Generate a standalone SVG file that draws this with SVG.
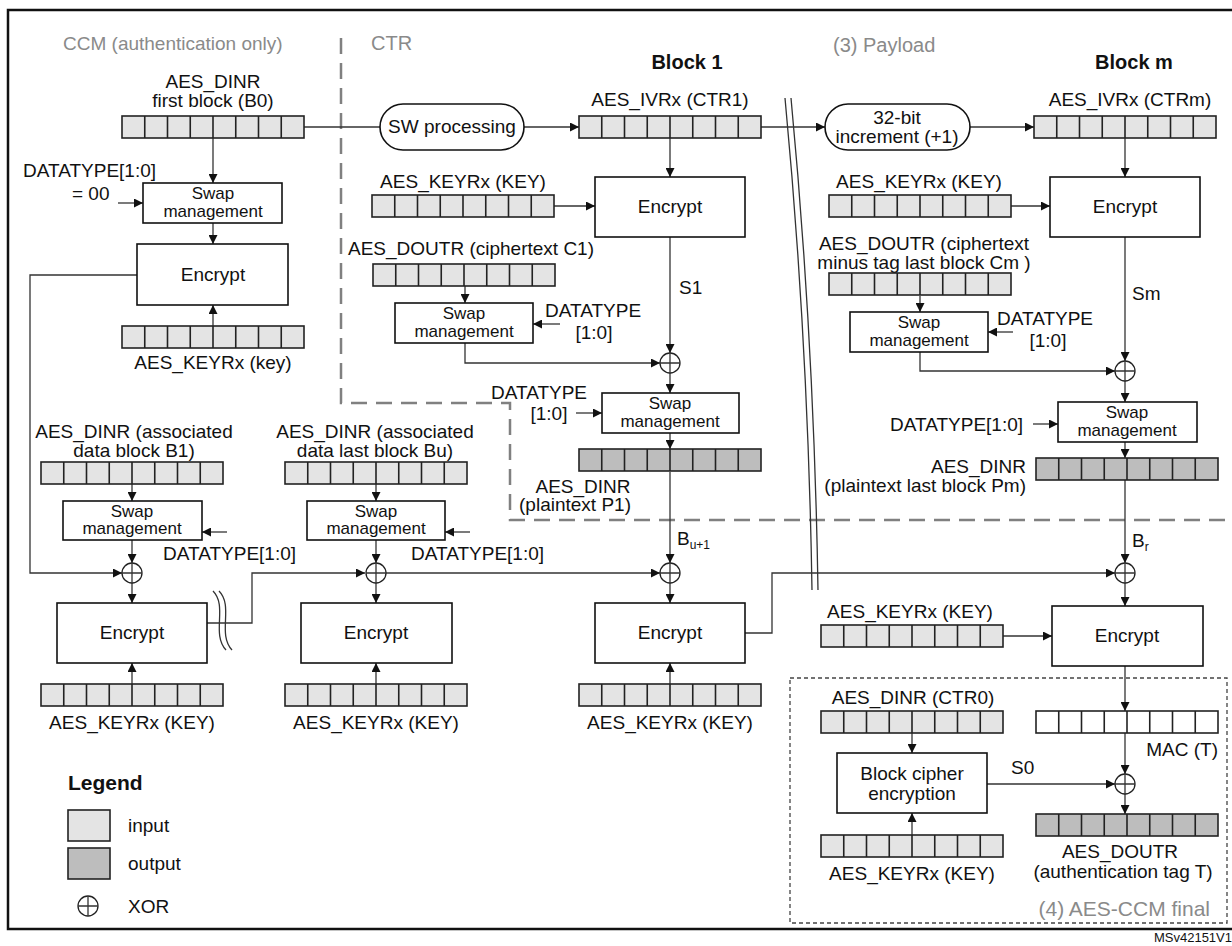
<svg xmlns="http://www.w3.org/2000/svg" xmlns:xlink="http://www.w3.org/1999/xlink" width="1232" height="946" viewBox="0 0 1232 946">
<style>
text{font-family:"Liberation Sans",Arial,sans-serif;font-size:19px;fill:#111}
.c{text-anchor:middle}
.r{text-anchor:end}
.s{font-size:17px}
.g{fill:#8a8a8a;font-size:20px}
.b{font-weight:bold;font-size:20px}
.box{fill:#fff;stroke:#111;stroke-width:1.6}
.ln{fill:none;stroke:#333;stroke-width:1.3}
.ar{fill:none;stroke:#333;stroke-width:1.3;marker-end:url(#ah)}
.cell{stroke:#222;stroke-width:1.6}
.in{fill:#e4e4e4}
.out{fill:#bdbdbd}
.wh{fill:#fff}
.x{fill:#fff;stroke:#222;stroke-width:1.3}
</style>
<defs>
<marker id="ah" viewBox="0 0 10 10" refX="10" refY="5" markerWidth="9" markerHeight="9" markerUnits="userSpaceOnUse" orient="auto"><path d="M0,0L10,5L0,10z" fill="#111"/></marker>
<g id="cells"><path class="cell" fill="none" d="M22.75,0V22M45.5,0V22M68.25,0V22M91,0V22M113.75,0V22M136.5,0V22M159.25,0V22"/></g>
<g id="regIn"><rect class="cell in" width="182" height="22"/><use xlink:href="#cells"/></g>
<g id="regOut"><rect class="cell out" width="182" height="22"/><use xlink:href="#cells"/></g>
<g id="regWh"><rect class="cell wh" width="182" height="22"/><use xlink:href="#cells"/></g>
<g id="xor"><circle class="x" r="10"/><path class="ln" d="M-10,0H10M0,-10V10"/></g>
</defs>
<rect x="8" y="10" width="1240" height="919" fill="none" stroke="#111" stroke-width="2.5"/>
<path d="M341,38V403H510V520H1232" fill="none" stroke="#808080" stroke-width="2.5" stroke-dasharray="16 9"/>
<rect x="790" y="678" width="437" height="245" fill="none" stroke="#444" stroke-width="1.3" stroke-dasharray="4 3"/>
<text x="63" y="50" class="g" style="font-size:19px">CCM (authentication only)</text>
<text x="371" y="50" class="g">CTR</text>
<text x="833" y="52" class="g">(3) Payload</text>
<text x="1210" y="916" class="g r" style="font-size:21px">(4) AES-CCM final</text>
<text x="687" y="69" class="b c">Block 1</text>
<text x="1134" y="69" class="b c">Block m</text>
<text x="1232" y="942" class="r" style="font-size:13px">MSv42151V1</text>
<g id="connectors">
<path class="ar" d="M213,138V183"/><path class="ar" d="M213,223V244"/><path class="ar" d="M118,203H143"/><path class="ar" d="M213,326V305"/>
<path class="ar" d="M137,275H30V573H122"/>
<path class="ln" d="M304,127H380"/><path class="ar" d="M524,127H579"/>
<path class="ar" d="M670,138V177"/><path class="ar" d="M554,206H595"/>
<path class="ar" d="M465,286V303"/><path class="ar" d="M560,324H533"/><path class="ar" d="M465,343V363H660"/>
<path class="ar" d="M670,237V353"/><path class="ar" d="M670,373V393"/><path class="ar" d="M576,413H602"/>
<path class="ar" d="M670,433V449"/><path class="ar" d="M670,472V563"/><path class="ar" d="M670,583V603"/><path class="ar" d="M670,684V663"/>
<path class="ar" d="M745,633H772V573H1115"/>
<path class="ar" d="M760,127H825"/><path class="ar" d="M970,127H1034"/>
<path class="ar" d="M1125,138V177"/><path class="ar" d="M1010,206H1050"/>
<path class="ar" d="M920,296V312"/><path class="ar" d="M1013,332H988"/><path class="ar" d="M920,352V371H1115"/>
<path class="ar" d="M1125,237V361"/><path class="ar" d="M1125,381V402"/><path class="ar" d="M1033,424H1058"/>
<path class="ar" d="M1125,442V458"/><path class="ar" d="M1125,480V563"/><path class="ar" d="M1125,583V606"/>
<path class="ar" d="M1003,636H1052"/><path class="ar" d="M1125,666V711"/><path class="ar" d="M1125,733V774"/>
<path class="ar" d="M912,733V753"/><path class="ar" d="M912,835V813"/><path class="ar" d="M987,784H1115"/><path class="ar" d="M1125,794V814"/>
<path class="ar" d="M132,484V501"/><path class="ar" d="M227,532H202"/><path class="ar" d="M132,540V563"/><path class="ar" d="M132,583V603"/><path class="ar" d="M132,684V663"/>
<path class="ar" d="M207,623H252V573H365"/>
<path class="ar" d="M376,484V501"/><path class="ar" d="M470,532H445"/><path class="ar" d="M376,540V563"/><path class="ar" d="M376,583V603"/><path class="ar" d="M376,684V663"/>
<path class="ar" d="M386,573H660"/>
<path class="ln" d="M213,591C228,606 211,634 226,650M219,591C234,606 217,634 232,650"/>
<path class="ln" d="M785,98Q808,340 812,590M791,98Q814,340 818,590"/>
</g>
<g id="ccm-b0"><text x="213" y="88" class="c">AES_DINR</text><text x="213" y="107" class="c">first block (B0)</text><use xlink:href="#regIn" x="122" y="116"/></g>
<g id="ccm-dt"><text x="23" y="177">DATATYPE[1:0]</text><text x="72" y="200">= 00</text></g>
<g id="ccm-swap"><rect class="box" x="143" y="183" width="139" height="40"/><text x="213" y="199" class="c s">Swap</text><text x="213" y="217" class="c s">management</text></g>
<g id="ccm-enc"><rect class="box" x="137" y="244" width="151" height="61"/><text x="213" y="281" class="c">Encrypt</text></g>
<g id="ccm-key"><use xlink:href="#regIn" x="122" y="326"/><text x="213" y="369" class="c">AES_KEYRx (key)</text></g>
<g id="sw"><rect class="box" x="380" y="104" width="144" height="46" rx="23"/><text x="452" y="133" class="c">SW processing</text></g>
<g id="ctr1"><text x="670" y="106" class="c">AES_IVRx (CTR1)</text><use xlink:href="#regIn" x="579" y="116"/></g>
<g id="key1"><text x="463" y="188" class="c">AES_KEYRx (KEY)</text><use xlink:href="#regIn" x="372" y="195"/></g>
<g id="enc1"><rect class="box" x="595" y="177" width="150" height="60"/><text x="670" y="213" class="c">Encrypt</text></g>
<g id="c1"><text x="471" y="255" class="c">AES_DOUTR (ciphertext C1)</text><use xlink:href="#regIn" x="373" y="264"/></g>
<g id="swap2"><rect class="box" x="395" y="303" width="138" height="40"/><text x="464" y="319" class="c s">Swap</text><text x="464" y="337" class="c s">management</text><text x="545" y="317">DATATYPE</text><text x="594" y="339" class="c">[1:0]</text></g>
<text x="679" y="294">S1</text>
<use xlink:href="#xor" x="670" y="363"/>
<g id="swap3"><rect class="box" x="602" y="393" width="137" height="40"/><text x="670" y="409" class="c s">Swap</text><text x="670" y="427" class="c s">management</text><text x="539" y="399" class="c">DATATYPE</text><text x="549" y="420" class="c">[1:0]</text></g>
<g id="p1"><use xlink:href="#regOut" x="579" y="449"/><text x="583" y="493" class="c">AES_DINR</text><text x="575" y="511" class="c">(plaintext P1)</text></g>
<text x="677" y="545">B<tspan font-size="12" dy="4">u+1</tspan></text>
<use xlink:href="#xor" x="670" y="573"/>
<g id="enc-bu1"><rect class="box" x="595" y="603" width="150" height="60"/><text x="670" y="639" class="c">Encrypt</text><use xlink:href="#regIn" x="579" y="684"/><text x="670" y="729" class="c">AES_KEYRx (KEY)</text></g>
<g id="b1"><text x="134" y="438" class="c">AES_DINR (associated</text><text x="134" y="457" class="c">data block B1)</text><use xlink:href="#regIn" x="41" y="462"/></g>
<g id="swap4"><rect class="box" x="63" y="501" width="139" height="39"/><text x="132" y="517" class="c s">Swap</text><text x="132" y="534" class="c s">management</text><text x="163" y="560">DATATYPE[1:0]</text></g>
<use xlink:href="#xor" x="132" y="573"/>
<g id="enc2"><rect class="box" x="57" y="603" width="150" height="60"/><text x="132" y="639" class="c">Encrypt</text><use xlink:href="#regIn" x="41" y="684"/><text x="132" y="729" class="c">AES_KEYRx (KEY)</text></g>
<g id="bu"><text x="375" y="438" class="c">AES_DINR (associated</text><text x="375" y="457" class="c">data last block Bu)</text><use xlink:href="#regIn" x="285" y="462"/></g>
<g id="swap5"><rect class="box" x="307" y="501" width="138" height="39"/><text x="376" y="517" class="c s">Swap</text><text x="376" y="534" class="c s">management</text><text x="411" y="560">DATATYPE[1:0]</text></g>
<use xlink:href="#xor" x="376" y="573"/>
<g id="enc3"><rect class="box" x="301" y="603" width="151" height="60"/><text x="376" y="639" class="c">Encrypt</text><use xlink:href="#regIn" x="285" y="684"/><text x="376" y="729" class="c">AES_KEYRx (KEY)</text></g>
<g id="inc"><rect class="box" x="825" y="104" width="145" height="46" rx="23"/><text x="897" y="124" class="c">32-bit</text><text x="897" y="143" class="c">increment (+1)</text></g>
<g id="ctrm"><text x="1130" y="106" class="c">AES_IVRx (CTRm)</text><use xlink:href="#regIn" x="1034" y="116"/></g>
<g id="keym"><text x="919" y="188" class="c">AES_KEYRx (KEY)</text><use xlink:href="#regIn" x="829" y="195"/></g>
<g id="encm"><rect class="box" x="1050" y="177" width="150" height="60"/><text x="1125" y="213" class="c">Encrypt</text></g>
<g id="cm"><text x="924" y="250" class="c">AES_DOUTR (ciphertext</text><text x="924" y="269" class="c">minus tag last block Cm )</text><use xlink:href="#regIn" x="829" y="273"/></g>
<g id="swap6"><rect class="box" x="850" y="312" width="138" height="40"/><text x="919" y="328" class="c s">Swap</text><text x="919" y="346" class="c s">management</text><text x="1045" y="325" class="c">DATATYPE</text><text x="1048" y="347" class="c">[1:0]</text></g>
<text x="1132" y="300">Sm</text>
<use xlink:href="#xor" x="1125" y="371"/>
<g id="swap7"><rect class="box" x="1058" y="402" width="139" height="40"/><text x="1127" y="418" class="c s">Swap</text><text x="1127" y="436" class="c s">management</text><text x="890" y="431">DATATYPE[1:0]</text></g>
<g id="pm"><use xlink:href="#regOut" x="1036" y="458"/><text x="1026" y="473" class="r">AES_DINR</text><text x="1026" y="492" class="r">(plaintext last block Pm)</text></g>
<text x="1132" y="547">B<tspan font-size="12" dy="4">r</tspan></text>
<use xlink:href="#xor" x="1125" y="573"/>
<g id="keym2"><text x="910" y="618" class="c">AES_KEYRx (KEY)</text><use xlink:href="#regIn" x="821" y="625"/></g>
<g id="encm2"><rect class="box" x="1052" y="606" width="151" height="60"/><text x="1127" y="642" class="c">Encrypt</text></g>
<g id="ctr0"><text x="913" y="704" class="c">AES_DINR (CTR0)</text><use xlink:href="#regIn" x="821" y="711"/></g>
<g id="bce"><rect class="box" x="837" y="753" width="150" height="60"/><text x="912" y="780" class="c">Block cipher</text><text x="912" y="800" class="c">encryption</text></g>
<g id="key0"><use xlink:href="#regIn" x="821" y="835"/><text x="912" y="880" class="c">AES_KEYRx (KEY)</text></g>
<g id="mac"><use xlink:href="#regWh" x="1036" y="711"/><text x="1218" y="756" class="r">MAC (T)</text></g>
<text x="1011" y="774">S0</text>
<use xlink:href="#xor" x="1125" y="784"/>
<g id="tag"><use xlink:href="#regOut" x="1036" y="814"/><text x="1120" y="858" class="c">AES_DOUTR</text><text x="1123" y="878" class="c">(authentication tag T)</text></g>
<g id="legend"><text x="68" y="790" class="b" style="font-size:21px">Legend</text>
<rect class="cell in" x="68" y="810" width="42" height="31"/><text x="128" y="832">input</text>
<rect class="cell out" x="68" y="848" width="42" height="31"/><text x="128" y="870">output</text>
<use xlink:href="#xor" x="88" y="906"/><text x="128" y="913">XOR</text></g>
</svg>
